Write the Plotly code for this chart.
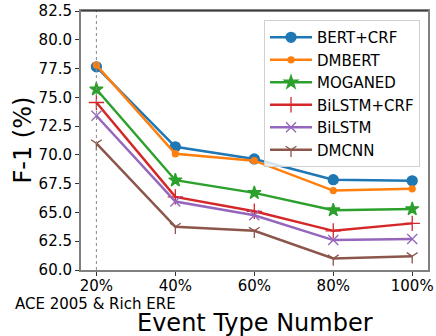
import plotly.graph_objects as go

x_vals = [20, 40, 60, 80, 100]
x_labels = ["20%", "40%", "60%", "80%", "100%"]

bert_crf = [77.65, 70.7, 69.65, 67.85, 67.75]
dmbert = [77.8, 70.1, 69.5, 66.9, 67.05]
moganed = [75.7, 67.8, 66.7, 65.2, 65.3]
bilstm_crf = [74.55, 66.35, 65.1, 63.4, 64.05]
bilstm = [73.4, 65.95, 64.75, 62.6, 62.7]
dmcnn = [71.0, 63.75, 63.4, 61.0, 61.2]

y_ticks = [60.0, 62.5, 65.0, 67.5, 70.0, 72.5, 75.0, 77.5, 80.0, 82.5]

series = [
    ("BERT+CRF", bert_crf, "#1f77b4", "circle", 10),
    ("DMBERT", dmbert, "#ff7f0e", "circle", 6),
    ("MOGANED", moganed, "#2ca02c", "star", 10),
    ("BiLSTM+CRF", bilstm_crf, "#d62728", "cross-thin", 11),
    ("BiLSTM", bilstm, "#9467bd", "x-thin", 10),
    ("DMCNN", dmcnn, "#8c564b", "y-down", 9),
]

fig = go.Figure()
for name, vals, color, sym, size in series:
    fig.add_trace(go.Scatter(
        x=x_vals, y=vals, name=name, mode="lines+markers",
        line=dict(color=color, width=2.5),
        marker=dict(symbol=sym, size=size, color=color,
                    line=dict(color=color, width=1.3)),
    ))

fig.add_vline(x=20, line=dict(color="#888888", width=1, dash="dot"))
fig.add_shape(type="line", xref="paper", yref="paper", x0=0, x1=1, y0=1, y1=1,
              line=dict(color="black", width=1))

fig.update_layout(
    width=436, height=336,
    margin=dict(l=81, r=8, t=11, b=66),
    paper_bgcolor="white", plot_bgcolor="white",
    font=dict(family="DejaVu Sans", size=15, color="black"),
    showlegend=True,
    legend=dict(x=0.977, xanchor="right", y=0.965, yanchor="top",
                bgcolor="rgba(255,255,255,0.8)", bordercolor="#d0d0d0", borderwidth=1,
                font=dict(size=15), itemwidth=42),
    xaxis=dict(range=[16.1, 104.0], tickvals=x_vals, ticktext=x_labels, automargin=False,
               showgrid=False, zeroline=False, showline=True, linecolor="#808080",
               linewidth=2, mirror=True, ticks="outside", ticklen=4, tickcolor="#333333",
               tickfont=dict(size=15), ticklabelstandoff=-3),
    yaxis=dict(range=[60.0, 82.5], tickvals=y_ticks, ticktext=[f"{v:.1f}" for v in y_ticks],
               automargin=False,
               showgrid=False, zeroline=False, showline=True, linecolor="#808080",
               linewidth=2, mirror=True, ticks="outside", ticklen=4, tickcolor="#333333",
               tickfont=dict(size=15)),
    annotations=[
        dict(text="Event Type Number", xref="paper", yref="paper", x=0.5, y=-0.205,
             xanchor="center", yanchor="middle", showarrow=False, font=dict(size=24)),
        dict(text="F-1 (%)", xref="paper", yref="paper", x=-0.17, y=0.5, textangle=-90,
             xanchor="center", yanchor="middle", showarrow=False, font=dict(size=24)),
        dict(text="ACE 2005 & Rich ERE", xref="paper", yref="paper", x=-0.195, y=-0.13,
             xanchor="left", yanchor="middle", showarrow=False, font=dict(size=15)),
    ],
)

fig.write_html("out.html", config={"displayModeBar": False},
               post_script="document.body.style.margin='0';document.body.style.overflow='hidden';")
